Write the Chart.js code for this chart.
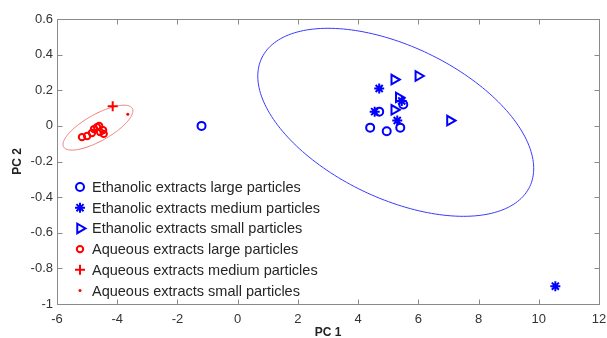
<!DOCTYPE html>
<html>
<head>
<meta charset="utf-8">
<script src="https://cdn.jsdelivr.net/npm/chart.js@4.4.1/dist/chart.umd.min.js"></script>
<style>
  body { margin: 0; background: #fff; }
  #wrap { width: 607px; height: 338px; }
</style>
</head>
<body>
<div id="wrap"><canvas id="chart"></canvas></div>
<script>
// tick labels
const xTicks = [-6, -4, -2, 0, 2, 4, 6, 8, 10, 12];
const yTicks = [0.6, 0.4, 0.2, 0, -0.2, -0.4, -0.6, -0.8, -1];

// Ethanolic extracts (blue) - [PC1, PC2]
const ethLarge = [[-1.2, 0.0], [4.4, -0.01], [4.95, -0.03], [5.4, -0.01], [4.7, 0.08], [5.5, 0.12]];
const ethMedium = [[4.7, 0.21], [4.55, 0.08], [5.3, 0.03], [5.45, 0.14], [10.55, -0.9]];
const ethSmall = [[5.2, 0.26], [6.0, 0.28], [5.35, 0.16], [5.2, 0.09], [7.05, 0.03]];

// Aqueous extracts (red)
const aqLarge = [[-5.17, -0.063], [-5.0, -0.057], [-4.84, -0.04], [-4.77, -0.018], [-4.67, -0.007],
                 [-4.6, 0.0], [-4.57, -0.035], [-4.47, -0.024], [-4.45, -0.045]];
const aqMedium = [[-4.15, 0.11]];
const aqSmall = [[-3.65, 0.065]];

// confidence ellipses: centre + two conjugate semi-axis vectors (data units)
const blueEllipseCenter = [5.25, 0.02];
const blueEllipseAxes = [[4.45, -0.361], [-1.09, -0.385]];
const redEllipseCenter = [-4.64, -0.01];
const redEllipseAxes = [[1.14, 0.108], [0.215, -0.065]];

const blue = '#0000ff';
const red = '#ff0000';

const toXY = arr => arr.map(([x, y]) => ({x, y}));

function series(label, data, color, style, radius, width, fill, rotation) {
    return {
        label: label,
        data: toXY(data),
        pointStyle: style,
        pointRadius: radius,
        pointHoverRadius: radius,
        pointBorderWidth: width,
        pointHoverBorderWidth: width,
        pointRotation: rotation || 0,
        pointBorderColor: color,
        pointBackgroundColor: fill ? color : 'rgba(0,0,0,0)',
        borderColor: color,
        backgroundColor: fill ? color : 'rgba(0,0,0,0)'
    };
}

const datasets = [
    series('Ethanolic extracts large particles', ethLarge, blue, 'circle', 4, 2, false),
    series('Ethanolic extracts medium particles', ethMedium, blue, 'star', 5, 2, false),
    series('Ethanolic extracts small particles', ethSmall, blue, 'triangle', 5.5, 2, false, 90),
    series('Aqueous extracts large particles', aqLarge, red, 'circle', 3.2, 2, false),
    series('Aqueous extracts medium particles', aqMedium, red, 'cross', 5, 2, false),
    series('Aqueous extracts small particles', aqSmall, red, 'circle', 1.5, 0, true)
];

// ellipses, box, inward ticks and legend
const matlabLook = {
    id: 'matlabLook',
    beforeDatasetsDraw(chart) {
        const ctx = chart.ctx;
        const xs = chart.scales.x, ys = chart.scales.y;
        const drawEllipse = (c, axes, color) => {
            const px = p => [xs.getPixelForValue(p[0]), ys.getPixelForValue(p[1])];
            const c0 = px(c);
            const u = px([c[0] + axes[0][0], c[1] + axes[0][1]]);
            const v = px([c[0] + axes[1][0], c[1] + axes[1][1]]);
            const ux = u[0] - c0[0], uy = u[1] - c0[1];
            const vx = v[0] - c0[0], vy = v[1] - c0[1];
            ctx.save();
            ctx.beginPath();
            for (let i = 0; i <= 200; i++) {
                const t = i / 200 * Math.PI * 2;
                const x = c0[0] + ux * Math.cos(t) + vx * Math.sin(t);
                const y = c0[1] + uy * Math.cos(t) + vy * Math.sin(t);
                if (i === 0) ctx.moveTo(x, y); else ctx.lineTo(x, y);
            }
            ctx.strokeStyle = color;
            ctx.lineWidth = 1;
            ctx.stroke();
            ctx.restore();
        };
        drawEllipse(blueEllipseCenter, blueEllipseAxes, '#3a3aff');
        drawEllipse(redEllipseCenter, redEllipseAxes, '#ee7777');
    },
    afterDraw(chart) {
        const ctx = chart.ctx;
        const a = chart.chartArea;
        const xs = chart.scales.x, ys = chart.scales.y;
        ctx.save();
        ctx.strokeStyle = '#8a8a8a';
        ctx.lineWidth = 1;
        const L = Math.round(a.left) + 0.5, R = Math.round(a.right) + 0.5;
        const T = Math.round(a.top) + 0.5, B = Math.round(a.bottom) + 0.5;
        ctx.strokeRect(L, T, R - L, B - T);
        const tl = 5;
        ctx.beginPath();
        xTicks.forEach(v => {
            const x = Math.round(xs.getPixelForValue(v)) + 0.5;
            ctx.moveTo(x, B); ctx.lineTo(x, B - tl);
            ctx.moveTo(x, T); ctx.lineTo(x, T + tl);
        });
        yTicks.forEach(v => {
            const y = Math.round(ys.getPixelForValue(v)) + 0.5;
            ctx.moveTo(L, y); ctx.lineTo(L + tl, y);
            ctx.moveTo(R, y); ctx.lineTo(R - tl, y);
        });
        ctx.stroke();

        // legend inside the axes, bottom-left
        const lx = 80, tx = 92, ly0 = 187, step = 20.7;
        ctx.font = '14.5px "Liberation Sans", Arial, sans-serif';
        ctx.textBaseline = 'middle';
        ctx.textAlign = 'left';
        chart.data.datasets.forEach((ds, i) => {
            const y = ly0 + i * step;
            ctx.strokeStyle = ds.pointBorderColor;
            ctx.fillStyle = ds.pointBackgroundColor;
            ctx.lineWidth = ds.pointBorderWidth;
            Chart.helpers.drawPoint(ctx, {
                pointStyle: ds.pointStyle,
                rotation: ds.pointRotation,
                radius: ds.pointRadius,
                borderWidth: ds.pointBorderWidth
            }, lx, y);
            ctx.fillStyle = '#262626';
            ctx.fillText(ds.label, tx, y + 1);
        });
        ctx.restore();
    }
};

new Chart(document.getElementById('chart'), {
    type: 'scatter',
    data: { datasets: datasets },
    options: {
        responsive: true,
        maintainAspectRatio: false,
        animation: false,
        layout: { padding: { top: 19, right: 8, left: 0, bottom: 0 } },
        plugins: {
            legend: { display: false },
            tooltip: { enabled: false }
        },
        scales: {
            x: {
                type: 'linear',
                min: -6,
                max: 12,
                grid: { display: false },
                border: { display: false },
                afterBuildTicks: s => { s.ticks = xTicks.map(v => ({value: v})); },
                afterFit: s => { s.height = 34; },
                ticks: {
                    padding: 0,
                    color: '#333',
                    font: { family: '"Liberation Sans", Arial, sans-serif', size: 13 },
                    callback: v => String(v)
                },
                title: {
                    display: true,
                    text: 'PC 1',
                    color: '#222',
                    padding: { top: 0, bottom: -1 },
                    font: { family: '"Liberation Sans", Arial, sans-serif', size: 12, weight: 'bold', lineHeight: 1 }
                }
            },
            y: {
                type: 'linear',
                min: -1,
                max: 0.6,
                grid: { display: false, drawTicks: false, tickLength: 0 },
                border: { display: false },
                afterBuildTicks: s => { s.ticks = yTicks.map(v => ({value: v})); },
                afterFit: s => { s.width = 57; },
                ticks: {
                    padding: 4,
                    color: '#333',
                    font: { family: '"Liberation Sans", Arial, sans-serif', size: 13 },
                    callback: v => String(Math.round(v * 10) / 10)
                },
                title: {
                    display: true,
                    text: 'PC 2',
                    color: '#222',
                    padding: { top: 12, bottom: 0 },
                    font: { family: '"Liberation Sans", Arial, sans-serif', size: 12, weight: 'bold', lineHeight: 1 }
                }
            }
        }
    },
    plugins: [matlabLook]
});
</script>
</body>
</html>
